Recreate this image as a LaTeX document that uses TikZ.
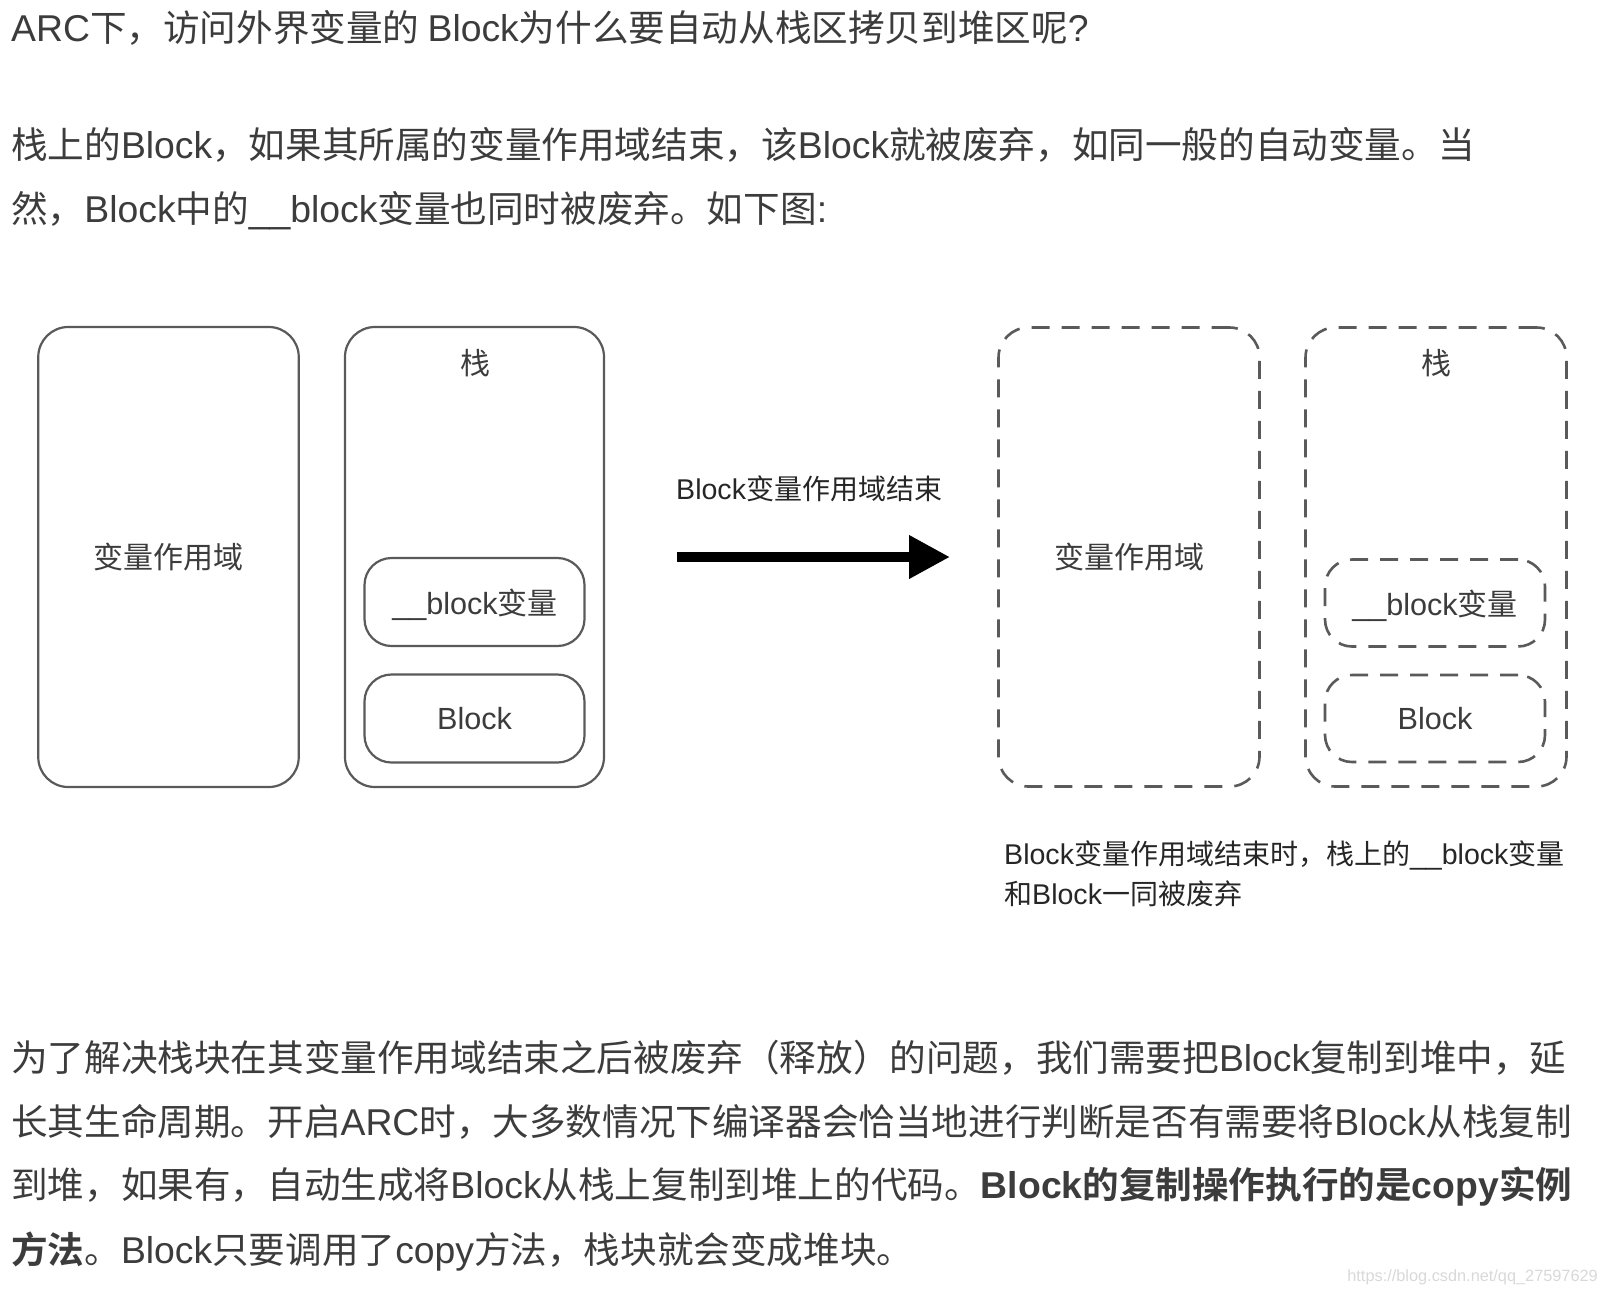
\documentclass[tikz,border=0pt]{standalone}
\usepackage{fontspec}
\usetikzlibrary{arrows.meta}
\setmainfont[BoldFont={Noto Sans CJK SC Bold}]{Noto Sans CJK SC}
\newfontfamily\latf[Scale=1.02]{Liberation Sans}
\newcommand{\lat}[1]{{\latf #1}}
\newcommand{\qcomma}{^^^^ff0c}
\newcommand{\qlp}{^^^^ff08}
\newcommand{\qrp}{^^^^ff09}
\definecolor{ink}{HTML}{3C3C3C}
\definecolor{edge}{HTML}{5A5A5A}
\tikzset{
  x=1pt,y=-1pt,
  para/.style={anchor=base west,inner sep=0pt,text=ink,font=\fontsize{36.6}{36.6}\selectfont},
  captext/.style={anchor=base west,inner sep=0pt,text=black!85,font=\fontsize{28}{28}\selectfont},
  lbl/.style={inner sep=0pt,text=ink,font=\fontsize{30}{30}\selectfont},
  solidbox/.style={draw=edge,line width=2.2pt,rounded corners=30pt,minimum width=#1,inner sep=0pt,text=ink,font=\fontsize{30}{30}\selectfont},
  dashbox/.style={solidbox=#1,line width=2.6pt,dash pattern=on 18pt off 12pt},
}
\begin{document}
\begin{tikzpicture}
\useasboundingbox (0,0) rectangle (1608,1288);
\fill[white] (0,0) rectangle (1608,1288);
% paragraph text
\node[para] (t1) at (11,41) {\lat{ARC}下\qcomma{}访问外界变量的 \lat{Block}为什么要自动从栈区拷贝到堆区呢\lat{?}};
\node[para] (t2) at (11,158) {栈上的\lat{Block}\qcomma{}如果其所属的变量作用域结束\qcomma{}该\lat{Block}就被废弃\qcomma{}如同一般的自动变量。当};
\node[para] (t3) at (11,222) {然\qcomma{}\lat{Block}中的\lat{\_\_block}变量也同时被废弃。如下图\lat{:}};
\node[para] (t4) at (11,1071) {为了解决栈块在其变量作用域结束之后被废弃\qlp{}释放\qrp{}的问题\qcomma{}我们需要把\lat{Block}复制到堆中\qcomma{}延};
\node[para] (t5) at (11,1135) {长其生命周期。开启\lat{ARC}时\qcomma{}大多数情况下编译器会恰当地进行判断是否有需要将\lat{Block}从栈复制};
\node[para] (t6) at (11,1198) {到堆\qcomma{}如果有\qcomma{}自动生成将\lat{Block}从栈上复制到堆上的代码。\textbf{{\latf\bfseries Block}的复制操作执行的是{\latf\bfseries copy}实例}};
\node[para] (t7) at (11,1263) {\textbf{方法}。\lat{Block}只要调用了\lat{copy}方法\qcomma{}栈块就会变成堆块。};
% left diagram
\node[solidbox=260.5pt,minimum height=460pt] (scopeA) at (168.5,557) {变量作用域};
\node[solidbox=259pt,minimum height=460pt] (stackA) at (474.5,557) {};
\node[lbl] (stackAt) at (475,363) {栈};
\node[solidbox=220pt,minimum height=88pt,rounded corners=27pt] (varA) at (474.5,602) {};
\node[lbl] (varAt) at (475,605) {\lat{\_\_block}变量};
\node[solidbox=220pt,minimum height=88pt,rounded corners=27pt] (blockA) at (474.5,718.5) {\lat{Block}};
% arrow
\node[lbl,anchor=base west,text=black!85,font=\fontsize{28}{28}\selectfont] (arrowt) at (676,499) {\lat{Block}变量作用域结束};
\coordinate (arrowS) at (676.5,557);
\coordinate (arrowE) at (950,557);
\draw[line width=10pt,-{Triangle[length=41pt,width=41pt]}] (arrowS) -- (arrowE);
% right diagram
\node[dashbox=261pt,minimum height=459pt] (scopeB) at (1129,557) {变量作用域};
\node[dashbox=261pt,minimum height=459pt] (stackB) at (1436,557) {};
\node[lbl] (stackBt) at (1436,363) {栈};
\node[dashbox=220pt,minimum height=87pt,rounded corners=27pt] (varB) at (1435,603) {};
\node[lbl] (varBt) at (1435,606) {\lat{\_\_block}变量};
\node[dashbox=220pt,minimum height=87pt,rounded corners=27pt] (blockB) at (1435,718.5) {\lat{Block}};
% caption
\node[captext] (c1) at (1004,864) {\lat{Block}变量作用域结束时\qcomma{}栈上的\lat{\_\_block}变量};
\node[captext] (c2) at (1004,904) {和\lat{Block}一同被废弃};
% watermark
\node[anchor=base east,inner sep=0pt,text=black!15,font=\latf\fontsize{16}{16}\selectfont] (wm) at (1598,1281) {https://blog.csdn.net/qq\_27597629};
\end{tikzpicture}
\end{document}
